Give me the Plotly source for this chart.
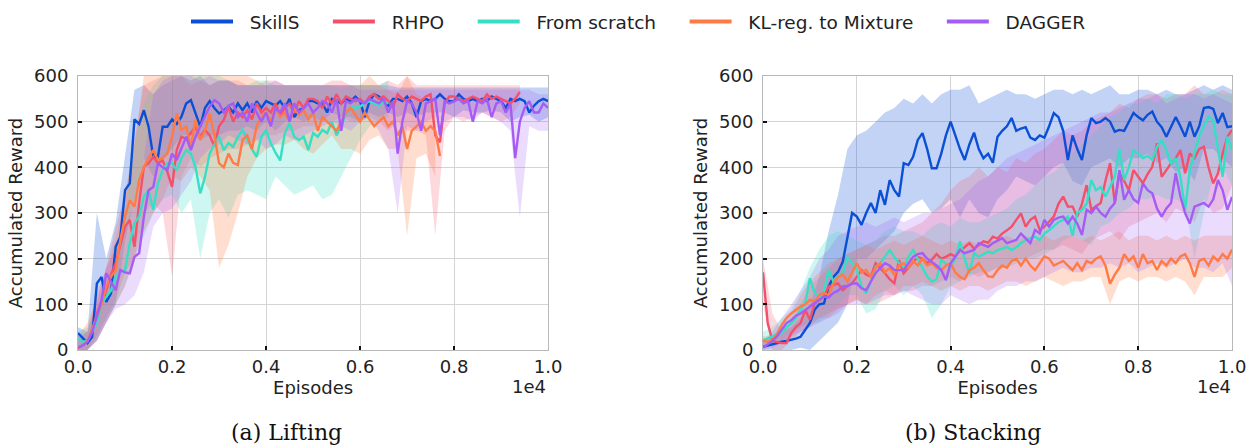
import plotly.graph_objects as go

# ---------------- data ----------------
SERIES = ["SkillS", "RHPO", "From scratch", "KL-reg. to Mixture", "DAGGER"]
COLORS = ["#0a4fd6", "#f4506b", "#36dfc4", "#ff7b45", "#a55cf6"]
FILLS = ["rgba(10,79,214,0.25)", "rgba(244,80,107,0.22)", "rgba(54,223,196,0.25)",
         "rgba(255,123,69,0.25)", "rgba(165,92,246,0.22)"]
X_TICKS = [0, 2000, 4000, 6000, 8000, 10000]
X_TICK_TEXT = ["0.0", "0.2", "0.4", "0.6", "0.8", "1.0"]
Y_TICKS = [0, 100, 200, 300, 400, 500, 600]
LINE_STEP = 100   # episodes between line samples
BAND_STEP = 200   # episodes between band samples

# ---- Lifting: mean curves ----
lift_skills = [37,25,15,29,146,160,105,124,226,248,
               350,365,505,495,525,489,423,423,489,489,
               505,495,511,540,547,518,489,530,545,530,
               518,525,533,520,540,525,540,520,545,530,
               545,540,535,545,530,550,510,525,530,545,
               545,540,540,520,550,545,540,550,545,555,
               545,510,545,560,555,545,535,550,550,545,
               555,540,510,545,550,545,550,560,550,545,
               545,560,550,545,550,545,550,545,555,550,
               545,530,550,545,550,545,520,535,545,550,
               545]
lift_rhpo = [5,10,20,40,80,105,130,165,190,230,
             270,285,226,322,401,409,423,409,415,390,
             357,438,467,462,475,489,467,482,470,446,
             490,504,533,500,520,510,525,505,540,520,
             530,520,540,515,530,540,520,545,530,550,
             550,545,530,555,540,560,540,555,550,545,
             550,540,555,560,550,555,545,530,560,550,
             545,555,550,545,555,560,470,455,540,555,
             555,550,545,550,555,550,545,560,550,555,
             550,545,540,550,565]
lift_scratch = [25,18,20,40,60,100,117,130,160,170,
                175,234,278,292,336,350,307,365,394,409,
                409,394,420,438,430,400,343,379,430,450,
                467,438,453,445,467,482,460,440,423,467,
                482,453,432,415,475,497,467,460,467,438,
                475,467,482,475,500,470,490,518,533,530,
                533,540,545,540,535,545,540]
lift_kl = [5,10,20,45,73,100,139,160,175,241,
           292,328,314,372,401,420,438,416,420,430,
           467,518,482,489,446,504,460,480,518,470,
           409,400,430,410,405,460,470,440,490,510,
           520,500,530,510,520,500,530,515,525,505,
           520,480,510,500,490,480,500,520,530,515,
           500,520,505,490,500,510,490,500,470,490,
           440,480,490,500,480,490,480,425]
lift_dagger = [5,10,18,40,73,110,168,150,131,175,
               170,168,204,212,292,350,357,409,400,394,
               430,416,440,467,438,467,490,511,533,547,
               540,520,535,540,510,520,500,540,520,500,
               520,490,530,520,540,500,540,520,530,540,
               520,530,545,540,520,550,480,545,540,550,
               545,540,550,545,540,550,520,545,430,500,
               545,540,520,480,540,545,550,470,545,540,
               545,550,540,545,500,545,540,550,510,540,
               545,520,540,420,500,530,545,520,520,540,
               530]

# ---- Lifting: spread bands (lower / upper) ----
lift_skills_lo = [0,0,20,60,100,240,330,420,380,420,
                  440,470,470,460,470,470,480,480,490,480,
                  500,480,500,510,500,510,500,520,510,510,
                  500,520,510,520,510,520,510,520,520,520,
                  510,525,520,520,525,520,500,510,515,500,
                  510]
lift_skills_hi = [50,40,300,200,280,420,570,580,560,580,
                  590,600,590,600,580,590,590,580,580,580,
                  580,580,580,580,580,580,580,580,580,580,
                  580,580,580,580,575,575,575,575,575,575,
                  575,575,575,575,575,575,575,575,575,575,
                  575]
lift_rhpo_lo = [0,0,30,70,110,170,200,300,320,300,
                160,380,420,400,420,430,440,440,450,460,
                470,470,480,480,490,490,500,500,510,500,
                500,510,500,480,500,480,480,470,250,480,
                510,500,510,520,510,500,510,540]
lift_rhpo_hi = [20,40,120,180,270,340,460,580,590,600,
                600,600,580,590,580,590,590,590,580,580,
                590,590,580,580,580,580,580,590,590,580,
                580,580,580,590,580,600,580,580,580,580,
                580,580,580,580,580,580,580,580]
lift_scratch_lo = [0,0,30,70,100,140,200,250,300,330,
                   340,300,330,200,300,330,290,340,350,340,
                   330,380,360,340,350,360,330,340,380,420,
                   460,490,500,510]
lift_scratch_hi = [40,50,90,130,200,300,450,540,580,600,
                   600,600,600,600,600,600,590,580,580,590,
                   590,580,580,580,580,580,580,580,570,580,
                   580,580,580,590]
lift_kl_lo = [0,0,20,60,100,140,200,260,300,330,
              380,370,400,380,350,180,230,300,380,420,
              440,450,450,460,440,430,450,470,440,440,
              430,460,470,440,440,250,420,430,380]
lift_kl_hi = [30,60,110,180,240,340,450,600,600,600,
              600,600,600,600,600,600,600,600,600,590,
              580,580,580,580,580,580,580,580,580,580,
              580,600,580,570,560,600,560,550,520]
lift_dagger_lo = [0,0,20,60,90,100,120,170,270,300,
                  310,340,370,420,440,450,470,460,450,460,
                  440,450,470,460,470,480,490,500,490,480,
                  500,510,480,440,300,490,480,500,510,500,
                  510,510,500,520,510,500,480,290,490,480,
                  480]
lift_dagger_hi = [30,40,100,180,220,270,320,420,560,590,
                  600,600,600,590,600,590,590,580,580,580,
                  580,590,580,580,580,580,580,580,580,580,
                  570,570,570,570,570,570,570,570,570,570,
                  570,570,570,570,570,570,570,570,570,560,
                  560]

# ---- Stacking: mean curves ----
stack_skills = [7,10,12,15,18,20,22,25,29,44,
                59,88,100,102,139,160,171,193,248,300,
                292,274,300,322,300,350,318,372,350,336,
                409,405,423,460,475,440,398,398,430,470,
                500,470,440,416,450,476,440,420,430,410,
                467,480,490,508,480,485,488,465,460,470,
                465,490,519,510,480,416,470,440,416,470,
                508,497,500,508,500,478,482,480,500,519,
                510,503,515,522,500,488,467,490,510,490,
                467,500,467,490,530,532,528,497,519,488,
                490]
stack_rhpo = [170,59,20,18,15,15,37,50,59,88,
              66,102,110,117,139,142,146,131,140,146,
              161,175,165,161,190,180,168,155,146,197,
              168,180,193,204,200,190,198,210,200,204,
              210,205,219,225,234,222,230,238,235,248,
              244,255,262,270,285,299,270,285,292,263,
              270,280,292,320,336,314,314,292,320,361,
              307,315,322,370,409,322,387,370,350,394,
              380,365,385,401,453,379,394,409,420,438,
              387,430,420,440,445,400,365,387,430,467,
              482]
stack_scratch = [22,25,30,35,37,50,59,70,88,102,
                 157,125,117,130,175,150,161,168,204,190,
                 175,140,124,150,182,190,204,219,204,190,
                 182,204,219,200,182,161,150,155,197,190,
                 182,200,238,200,168,212,204,210,215,212,
                 219,222,226,219,225,234,241,245,248,241,
                 255,262,270,280,285,292,250,300,307,320,
                 372,350,357,336,357,380,440,372,400,438,
                 430,420,425,416,445,460,438,409,420,379,
                 307,394,430,467,490,511,503,445,379,467,
                 438]
stack_kl = [20,18,22,35,55,70,80,88,95,100,
            110,105,120,125,120,145,160,165,150,170,
            190,170,175,160,180,190,170,180,165,185,
            190,180,195,185,200,185,190,180,175,185,
            190,170,160,155,175,180,190,175,161,160,
            175,185,180,195,200,185,200,185,175,190,
            205,200,185,190,195,185,175,190,175,195,
            190,200,205,185,145,165,180,210,195,205,
            180,210,190,195,175,195,185,200,190,205,
            210,190,160,195,200,185,205,195,210,200,
            220]
stack_dagger = [5,12,20,30,45,59,65,75,80,88,
                95,102,110,117,115,125,130,139,140,145,
                146,135,131,150,168,180,190,185,175,175,
                175,190,204,210,212,200,193,185,175,153,
                190,205,219,212,215,219,234,230,226,234,
                240,245,234,238,241,255,245,234,263,255,
                285,270,285,290,292,277,292,277,252,307,
                300,314,300,292,310,322,394,329,350,330,
                322,365,350,343,310,292,310,322,387,336,
                300,277,314,318,322,314,330,372,350,307,
                335]

# ---- Stacking: spread bands (lower / upper) ----
stack_skills_lo = [0,0,0,0,5,0,20,40,60,100,
                   200,200,220,240,260,300,320,330,300,310,
                   330,290,330,300,290,330,350,380,370,360,
                   380,400,410,370,360,400,410,420,400,420,
                   420,430,410,420,390,400,370,440,440,420,
                   400]
stack_skills_hi = [20,25,40,50,70,100,160,260,340,440,
                   470,480,500,520,530,550,540,560,540,560,
                   570,570,580,540,550,560,570,560,560,550,
                   560,570,570,560,570,560,570,580,560,560,
                   570,570,560,570,560,560,570,580,570,580,
                   570]
stack_rhpo_lo = [100,0,0,20,40,50,70,80,90,100,
                 110,100,100,110,120,130,130,140,140,150,
                 160,150,170,160,170,180,180,200,200,210,
                 220,220,230,220,210,240,250,260,240,270,
                 280,290,300,280,310,300,280,330,300,310,
                 360]
stack_rhpo_hi = [200,80,40,60,100,140,160,180,200,210,
                 220,230,240,250,250,260,270,280,300,320,
                 350,370,380,400,380,400,390,420,410,430,
                 440,460,480,470,480,500,510,520,540,530,
                 550,560,560,550,560,560,580,560,560,570,
                 560]
stack_scratch_lo = [10,15,20,40,50,60,60,80,100,120,
                    120,80,90,130,140,120,140,120,70,100,
                    140,150,160,170,170,180,180,190,200,200,
                    210,220,240,250,240,230,270,280,300,310,
                    330,330,340,330,330,320,200,300,380,400,
                    360]
stack_scratch_hi = [40,50,70,90,130,180,220,250,260,250,
                    240,230,240,260,270,260,260,250,270,280,
                    270,290,280,280,290,300,310,330,340,360,
                    380,390,410,430,450,470,490,510,520,540,
                    540,550,540,560,560,550,560,560,570,560,
                    560]
stack_kl_lo = [10,10,15,30,50,60,70,70,90,100,
               110,100,120,130,120,140,140,150,140,130,
               140,130,140,140,130,140,150,150,140,150,
               160,150,140,150,150,160,160,100,150,160,
               150,160,160,150,160,150,120,160,160,160,
               180]
stack_kl_hi = [30,30,50,80,120,150,170,190,200,210,
               220,230,220,230,240,230,240,250,240,230,
               240,230,240,230,240,240,250,240,250,240,
               250,240,250,250,240,250,240,250,260,240,
               250,250,240,250,240,250,240,250,250,250,
               250]
stack_dagger_lo = [0,5,15,30,40,50,60,70,80,100,
                   100,100,110,120,120,130,120,110,100,100,
                   120,110,100,110,110,130,140,140,150,150,
                   160,170,180,170,170,180,180,190,180,190,
                   170,180,190,180,190,200,180,180,170,190,
                   140]
stack_dagger_hi = [20,40,70,100,130,160,200,220,250,260,
                   270,280,270,280,290,280,290,300,300,310,
                   320,330,350,370,380,400,420,430,440,450,
                   460,470,480,490,500,510,520,520,530,540,
                   550,550,560,540,550,560,560,550,560,550,
                   540]

LIFT_MEANS = [lift_skills, lift_rhpo, lift_scratch, lift_kl, lift_dagger]
LIFT_BANDS = [(lift_skills_lo, lift_skills_hi), (lift_rhpo_lo, lift_rhpo_hi),
              (lift_scratch_lo, lift_scratch_hi), (lift_kl_lo, lift_kl_hi),
              (lift_dagger_lo, lift_dagger_hi)]
STACK_MEANS = [stack_skills, stack_rhpo, stack_scratch, stack_kl, stack_dagger]
STACK_BANDS = [(stack_skills_lo, stack_skills_hi), (stack_rhpo_lo, stack_rhpo_hi),
               (stack_scratch_lo, stack_scratch_hi), (stack_kl_lo, stack_kl_hi),
               (stack_dagger_lo, stack_dagger_hi)]

# ---------------- figure ----------------
fig = go.Figure()
FONT = "DejaVu Sans"
TXT = "#222222"
FS = 18


def add_panel(means, bands, xa, ya):
    for i, (lo, hi) in enumerate(bands):
        n = min(len(lo), len(hi))
        bx = [k * BAND_STEP for k in range(n)]
        fig.add_trace(go.Scatter(
            x=bx + bx[::-1], y=hi[:n] + lo[:n][::-1], fill="toself",
            fillcolor=FILLS[i], line=dict(width=0), mode="lines",
            hoverinfo="skip", showlegend=False, xaxis=xa, yaxis=ya))
    for i, y in enumerate(means):
        lx = [k * LINE_STEP for k in range(len(y))]
        fig.add_trace(go.Scatter(
            x=lx, y=y, mode="lines", name=SERIES[i],
            line=dict(color=COLORS[i], width=2.4),
            showlegend=False, xaxis=xa, yaxis=ya))


add_panel(LIFT_MEANS, LIFT_BANDS, "x", "y")
add_panel(STACK_MEANS, STACK_BANDS, "x2", "y2")

NB = "\u00a0"
# legend entries
for i, name in enumerate(SERIES):
    fig.add_trace(go.Scatter(x=[None], y=[None], mode="lines",
                             name=NB * 2 + name + (NB * 4 if i < len(SERIES) - 1 else ""),
                             line=dict(color=COLORS[i], width=4),
                             showlegend=True, xaxis="x", yaxis="y"))

axis_common = dict(
    showline=True, linecolor="#b8b8b8", linewidth=1, mirror=True,
    showgrid=True, gridcolor="#d4d4d4", gridwidth=1,
    ticks="inside", ticklen=4, tickwidth=2, tickcolor="#111111",
    tickfont=dict(family=FONT, size=FS, color=TXT),
    zeroline=False, automargin=False,
)
YDOM = [0.2135, 0.8292]
fig.update_layout(
    width=1249, height=445, autosize=False,
    margin=dict(l=0, r=0, t=0, b=0, autoexpand=False),
    paper_bgcolor="white", plot_bgcolor="white",
    font=dict(family=FONT, size=FS, color=TXT),
    xaxis=dict(domain=[0.0625, 0.4388], range=[0, 10000], tickvals=X_TICKS,
               ticktext=X_TICK_TEXT, anchor="y", ticklabelstandoff=0,
               title=dict(text="Episodes", font=dict(size=FS), standoff=0),
               **axis_common),
    yaxis=dict(domain=YDOM, range=[0, 600], tickvals=Y_TICKS, anchor="x",
               ticklabelstandoff=5,
               title=dict(text="Accumulated Reward", font=dict(size=FS), standoff=6),
               **axis_common),
    xaxis2=dict(domain=[0.6109, 0.9864], range=[0, 10000], tickvals=X_TICKS,
                ticktext=X_TICK_TEXT, anchor="y2", ticklabelstandoff=0,
                title=dict(text="Episodes", font=dict(size=FS), standoff=0),
                **axis_common),
    yaxis2=dict(domain=YDOM, range=[0, 600], tickvals=Y_TICKS, anchor="x2",
                ticklabelstandoff=5,
                title=dict(text="Accumulated Reward", font=dict(size=FS), standoff=6),
                **axis_common),
    legend=dict(orientation="h", x=186 / 1249, xanchor="left",
                y=1 - 22 / 445, yanchor="middle",
                font=dict(family=FONT, size=18.5, color=TXT),
                itemwidth=42, bgcolor="rgba(0,0,0,0)"),
    annotations=[
        dict(text="1e4", x=548 / 1249, y=(445 - 386) / 445, xref="paper", yref="paper",
             xanchor="right", yanchor="middle", showarrow=False,
             font=dict(family=FONT, size=FS, color=TXT)),
        dict(text="1e4", x=1233 / 1249, y=(445 - 386) / 445, xref="paper", yref="paper",
             xanchor="right", yanchor="middle", showarrow=False,
             font=dict(family=FONT, size=FS, color=TXT)),
        dict(text="(a) Lifting", x=286 / 1249, y=(445 - 432) / 445, xref="paper", yref="paper",
             xanchor="center", yanchor="middle", showarrow=False,
             font=dict(family="DejaVu Serif", size=22, color="#111111")),
        dict(text="(b) Stacking", x=973 / 1249, y=(445 - 432) / 445, xref="paper", yref="paper",
             xanchor="center", yanchor="middle", showarrow=False,
             font=dict(family="DejaVu Serif", size=22, color="#111111")),
    ],
)

fig.write_html("out.html", config={"displayModeBar": False},
               post_script="document.body.style.margin='0px';")
